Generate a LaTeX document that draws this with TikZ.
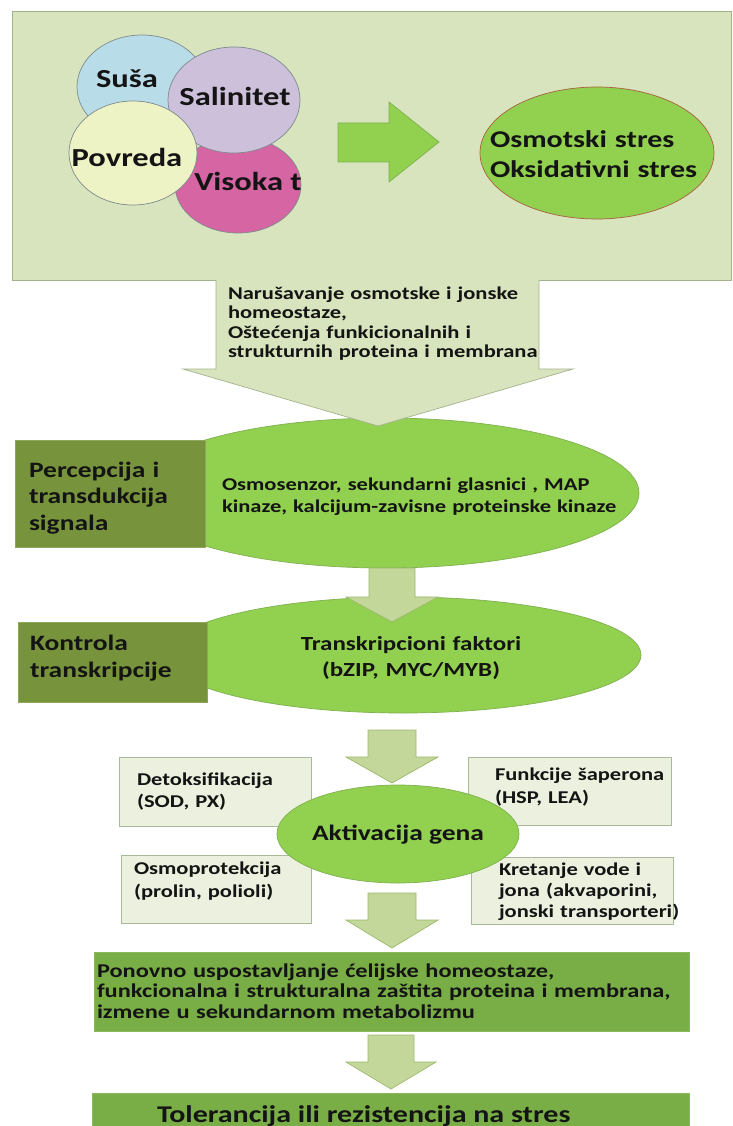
\documentclass[tikz,border=0pt]{standalone}
\usepackage{fontspec}
\setmainfont{Carlito}[FakeStretch=1.25]
\usetikzlibrary{shapes.geometric}
\definecolor{topfill}{HTML}{D8E4BD}
\definecolor{topborder}{HTML}{A3B38C}
\definecolor{bluec}{HTML}{B9DDE8}
\definecolor{purplec}{HTML}{CCC0DA}
\definecolor{yellowc}{HTML}{EEF3C6}
\definecolor{pinkc}{HTML}{D665A3}
\definecolor{circborder}{HTML}{7E8A8C}
\definecolor{brightgreen}{HTML}{92D050}
\definecolor{greenborder}{HTML}{7FB04E}
\definecolor{brownborder}{HTML}{A8603E}
\definecolor{darkolive}{HTML}{77933C}
\definecolor{darkoliveborder}{HTML}{8CA65A}
\definecolor{midgreen}{HTML}{79AD46}
\definecolor{midgreenborder}{HTML}{8DB862}
\definecolor{arrowfill}{HTML}{C4D79B}
\definecolor{arrowborder}{HTML}{9BB86A}
\definecolor{boxfill}{HTML}{EBF1DE}
\definecolor{boxborder}{HTML}{A9B99A}
\definecolor{textc}{HTML}{141414}
\newcommand{\fsz}[2]{\fontsize{#1}{#2}\selectfont\bfseries}
\newcommand{\downarrowblock}[6]{% cx, ytop, yhead, ytip, bodyhalf, headhalf
  \filldraw[smallarrow] (#1-#5,#2) -- (#1-#5,#3) -- (#1-#6,#3) -- (#1,#4) -- (#1+#6,#3) -- (#1+#5,#3) -- (#1+#5,#2) -- cycle;}
\begin{document}
\begin{tikzpicture}[x=1pt,y=-1pt,
  circ/.style={ellipse, draw=circborder, line width=0.7pt, inner sep=0pt},
  greenell/.style={ellipse, fill=brightgreen, draw=greenborder, line width=0.7pt, inner sep=0pt},
  olivebox/.style={rectangle, fill=darkolive, draw=darkoliveborder, line width=0.7pt, inner sep=0pt},
  lightbox/.style={rectangle, fill=boxfill, draw=boxborder, line width=0.7pt, inner sep=0pt},
  greenbox/.style={rectangle, fill=midgreen, draw=midgreenborder, line width=0.7pt, inner sep=0pt},
  smallarrow/.style={fill=arrowfill, draw=arrowborder, line width=0.7pt, line join=miter},
  txt/.style={text=textc, inner sep=0pt, outer sep=0pt},
  blockL/.style={txt, anchor=base west, text width=420pt, align=left},
]
\useasboundingbox (0,0) rectangle (732,1126);
\clip (0,0) rectangle (732,1126);

% ---------- top panel ----------
\node[rectangle, fill=topfill, draw=topborder, line width=0.7pt, minimum width=719pt, minimum height=269pt, inner sep=0pt] (top) at (371.5,145.5) {};

\node[circ, fill=bluec, minimum width=130pt, minimum height=104pt] (susa) at (142,87) {};
\node[circ, fill=pinkc, minimum width=126pt, minimum height=96pt] (visoka) at (238,185) {};
\node[circ, fill=purplec, minimum width=132pt, minimum height=106pt] (salin) at (234,100) {};
\node[circ, fill=yellowc, minimum width=128pt, minimum height=104pt] (povreda) at (133,153) {};

\node[txt, anchor=base, font=\fsz{26}{30}] (tsusa) at (127,88) {Suša};
\node[txt, anchor=base, font=\fsz{26}{30}] (tsalin) at (235,106) {Salinitet};
\node[txt, anchor=base, font=\fsz{26}{30}] (tpovreda) at (127,167) {Povreda};
\node[txt, anchor=base, font=\fsz{26}{30}] (tvisoka) at (248,190) {Visoka t};

% right green arrow
\filldraw[fill=brightgreen, draw=greenborder, line width=0.7pt, line join=miter]
  (338,123) -- (389,123) -- (389,102) -- (439,142) -- (389,182) -- (389,162) -- (338,162) -- cycle;

\node[ellipse, fill=brightgreen, draw=brownborder, line width=0.7pt, inner sep=0pt, minimum width=234pt, minimum height=132pt] (stres) at (597,153) {};
\node[blockL, font=\fsz{24}{30}] (tstres) at (490,148) {Osmotski stres\\Oksidativni stres};

% ---------- perception ----------
\node[greenell, minimum width=508pt, minimum height=150pt] (e1) at (385,493) {};
\node[olivebox, minimum width=190pt, minimum height=107pt] (box1) at (110,493.5) {};
\node[blockL, font=\fsz{22}{26.5}] (tbox1) at (29,477) {Percepcija i\\transdukcija\\signala};
\node[blockL, font=\fsz{18}{22}] (te1) at (222,490) {Osmosenzor, sekundarni glasnici , MAP\\kinaze, kalcijum-zavisne proteinske kinaze};

% big arrow from top panel
\fill[fill=topfill] (216,279.3) -- (216,369) -- (183,369) -- (378,426) -- (573,369) -- (539,369) -- (539,279.3) -- cycle;
\draw[draw=topborder, line width=0.7pt, line join=miter] (216,280) -- (216,369) -- (183,369) -- (378,426) -- (573,369) -- (539,369) -- (539,280);
\node[blockL, font=\fsz{18}{19.5}] (tarrow) at (228,299) {Narušavanje osmotske i jonske\\homeostaze,\\Oštećenja funkicionalnih i\\strukturnih proteina i membrana};

% ---------- transcription ----------
\node[greenell, minimum width=476pt, minimum height=116pt] (e2) at (403,655) {};
\downarrowblock{392}{568}{597}{622}{23}{46}
\node[olivebox, minimum width=189pt, minimum height=80pt] (box2) at (112.5,662) {};
\node[blockL, font=\fsz{22}{27}] (tbox2) at (30,650) {Kontrola\\transkripcije};
\node[txt, anchor=base, text width=320pt, align=center, font=\fsz{20}{26}] (te2) at (411,650) {Transkripcioni faktori\\(bZIP, MYC/MYB)};

% ---------- gene activation ----------
\downarrowblock{392}{730}{757}{783}{24}{46}
\node[lightbox, minimum width=192pt, minimum height=69pt] (detox) at (215,791.5) {};
\node[lightbox, minimum width=190pt, minimum height=68pt] (osmo) at (216,889) {};
\node[lightbox, minimum width=203pt, minimum height=68pt] (funk) at (569.5,791) {};
\node[lightbox, minimum width=202pt, minimum height=67pt] (kret) at (572,890.5) {};
\node[greenell, minimum width=242pt, minimum height=98pt] (akt) at (398,834) {};
\node[txt, anchor=base, font=\fsz{22}{26}] (takt) at (398,840) {Aktivacija gena};
\node[blockL, font=\fsz{18}{22}] (tdetox) at (137,785) {Detoksifikacija\\(SOD, PX)};
\node[blockL, font=\fsz{18}{23}] (tosmo) at (134,874) {Osmoprotekcija\\(prolin, polioli)};
\node[blockL, font=\fsz{18}{23}] (tfunk) at (495,780) {Funkcije šaperona\\(HSP, LEA)};
\node[blockL, font=\fsz{18}{21}] (tkret) at (499,875) {Kretanje vode i\\jona (akvaporini,\\jonski transporteri)};

% ---------- outcome ----------
\downarrowblock{392}{893}{920}{948}{24}{46}
\node[greenbox, minimum width=595pt, minimum height=79pt] (ponovno) at (391.5,991.5) {};
\node[blockL, text width=600pt, font=\fsz{19.5}{20.5}] (tponovno) at (97,977) {Ponovno uspostavljanje ćelijske homeostaze,\\funkcionalna i strukturalna zaštita proteina i membrana,\\izmene u sekundarnom metabolizmu};
\downarrowblock{391}{1035}{1062}{1089}{23}{45}
\node[greenbox, minimum width=597pt, minimum height=60pt] (toler) at (390.5,1123) {};
\node[txt, anchor=base west, font=\fsz{24}{28}] (ttoler) at (157,1122) {Tolerancija ili rezistencija na stres};
\end{tikzpicture}
\end{document}
